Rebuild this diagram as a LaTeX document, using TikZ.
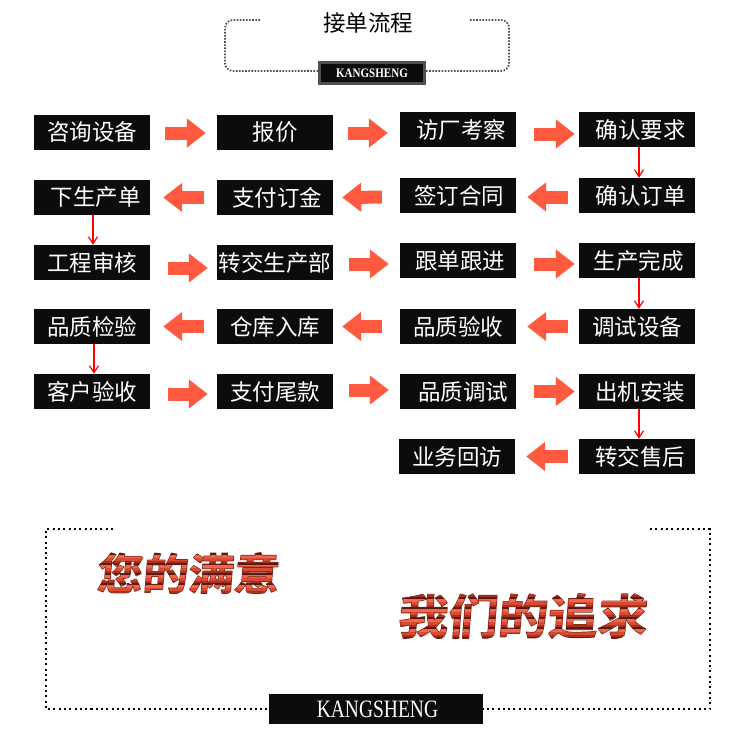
\documentclass[tikz,border=0pt]{standalone}
\usepackage{fontspec}
\setmainfont{Liberation Serif}
\newfontfamily\cjk{Noto Sans CJK SC}
\newfontfamily\sloganA[FakeSlant=0.08,FakeStretch=1.06]{Noto Sans CJK SC Bold}
\newfontfamily\sloganB[FakeSlant=0.08,FakeStretch=1.06]{Noto Sans CJK SC Bold}
\usetikzlibrary{arrows.meta}
\definecolor{boxblack}{HTML}{0C0C0C}
\definecolor{blockred}{HTML}{FF5A40}
\definecolor{framegray}{HTML}{505050}
\definecolor{deep}{HTML}{5A1A10}
\definecolor{mid}{HTML}{A83222}
\definecolor{hot}{HTML}{D84A32}
\definecolor{bright}{HTML}{F2664C}
% a text used as a clip for horizontal colour bands
\newcommand{\bandstack}[1]{%
  \foreach \off in {-15,-5,5,15,25,35,45}{%
    \foreach \dy/\hh/\cc in {0/2/deep,2/2/mid,4/3/hot,7/3/bright}{%
      \pgfmathsetlengthmacro{\yy}{(\off+\dy)*1pt}%
      \rlap{\color{\cc}\smash{\rule[\yy]{#1}{\hh pt}}}%
    }%
  }%
}
\newcommand{\carved}[1]{%
  \setbox0=\hbox{#1}%
  \hbox to \wd0{%
    \special{pdf:literal q 1.3 w 0.5 0.14 0.09 RG 0.5 0.14 0.09 rg 1 j 6 Tr}\rlap{\copy0}\special{pdf:literal 0 Tr}%
    \bandstack{\wd0}\hfill\special{pdf:literal Q}}%
}
\tikzset{
  x=1pt,y=-1pt,
  stagebox/.style={fill=boxblack,text=white,minimum width=116pt,minimum height=35pt,inner sep=0pt,font=\cjk\fontsize{22.5}{23}\selectfont},
  bigarrow/.style={draw=blockred,line width=13pt,-{Triangle[width=28pt,length=19pt,fill=blockred]}},
  thinarrow/.style={draw=red,line width=1.4pt,-{Straight Barb[length=7pt,width=9pt,line width=1.2pt]}},
  smallframe/.style={draw=framegray,line width=1.8pt,dash pattern=on 1.6pt off 1.5pt,rounded corners=8pt},
  bigframe/.style={draw=black,line width=2pt,dash pattern=on 2pt off 3.3pt},
  badge/.style={fill=boxblack,text=white,inner sep=0pt},
  slogan/.style={inner sep=0pt},
}
\begin{document}
\begin{tikzpicture}
\useasboundingbox[fill=white] (0,0) rectangle (750,750);
% row 1
\node[stagebox] (a1) at (92,132.5) {咨询设备};
\node[stagebox] (a2) at (275,132.5) {报价};
\node[stagebox] (a3) at (458,129.5) {\kern6pt访厂考察};
\node[stagebox] (a4) at (637,129.5) {\kern7pt确认要求};
% row 2
\node[stagebox] (b1) at (92,197.5) {\kern7pt下生产单};
\node[stagebox] (b2) at (275,197.5) {\kern4pt支付订金};
\node[stagebox] (b3) at (458,195.5) {\kern2pt签订合同};
\node[stagebox] (b4) at (637,195.5) {\kern7pt确认订单};
% row 3
\node[stagebox] (c1) at (92,262.5) {工程审核};
\node[stagebox] (c2) at (275,262.5) {转交生产部};
\node[stagebox] (c3) at (458,260.5) {\kern4pt跟单跟进};
\node[stagebox] (c4) at (637,260.5) {\kern3pt生产完成};
% row 4
\node[stagebox] (d1) at (92,326.5) {品质检验};
\node[stagebox] (d2) at (275,326.5) {仓库入库};
\node[stagebox] (d3) at (458,326.5) {品质验收};
\node[stagebox] (d4) at (637,326.5) {调试设备};
% row 5
\node[stagebox] (e1) at (92,391.5) {客户验收};
\node[stagebox] (e2) at (275,391.5) {支付尾款};
\node[stagebox] (e3) at (458,391.5) {\kern10pt品质调试};
\node[stagebox] (e4) at (637,391.5) {\kern6pt出机安装};
% row 6
\node[stagebox] (f3) at (457,456.5) {业务回访};
\node[stagebox] (f4) at (637,456.5) {\kern6pt转交售后};
% block arrows
\draw[bigarrow,shorten <=15pt,shorten >=11pt] ([yshift=-.5pt]a1.east) -- ([yshift=-.5pt]a2.west);
\draw[bigarrow,shorten <=15pt,shorten >=12pt] ([yshift=-.5pt]a2.east) -- ([yshift=-3.5pt]a3.west);
\draw[bigarrow,shorten <=18pt,shorten >=4pt] ([yshift=-4.5pt]a3.east) -- ([yshift=-4.5pt]a4.west);
\draw[bigarrow,shorten <=13pt,shorten >=13pt] (b2.west) -- (b1.east);
\draw[bigarrow,shorten <=18pt,shorten >=9pt] ([yshift=-1.5pt]b3.west) -- (b2.east);
\draw[bigarrow,shorten <=11pt,shorten >=11pt] ([yshift=-1.5pt]b4.west) -- ([yshift=-1.5pt]b3.east);
\draw[bigarrow,shorten <=18pt,shorten >=9pt] ([yshift=-5.5pt]c1.east) -- ([yshift=-5.5pt]c2.west);
\draw[bigarrow,shorten <=16pt,shorten >=11pt] ([yshift=-1.5pt]c2.east) -- ([yshift=-3.5pt]c3.west);
\draw[bigarrow,shorten <=18pt,shorten >=4pt] ([yshift=-3.5pt]c3.east) -- ([yshift=-3.5pt]c4.west);
\draw[bigarrow,shorten <=13pt,shorten >=13pt] (d2.west) -- (d1.east);
\draw[bigarrow,shorten <=18pt,shorten >=9pt] (d3.west) -- (d2.east);
\draw[bigarrow,shorten <=11pt,shorten >=11pt] (d4.west) -- (d3.east);
\draw[bigarrow,shorten <=18pt,shorten >=9pt] ([yshift=-2.5pt]e1.east) -- ([yshift=-2.5pt]e2.west);
\draw[bigarrow,shorten <=16pt,shorten >=11pt] ([yshift=1.5pt]e2.east) -- ([yshift=1.5pt]e3.west);
\draw[bigarrow,shorten <=18pt,shorten >=4pt] (e3.east) -- (e4.west);
\draw[bigarrow,shorten <=11pt,shorten >=11pt] (f4.west) -- (f3.east);
% thin arrows
\draw[thinarrow] ([xshift=2pt]a4.south) -- ([xshift=2pt]b4.north);
\draw[thinarrow] ([xshift=1pt]b1.south) -- ([xshift=1pt]c1.north);
\draw[thinarrow] ([xshift=2pt]c4.south) -- ([xshift=2pt]d4.north);
\draw[thinarrow] ([xshift=2pt]d1.south) -- ([xshift=2pt]e1.north);
\draw[thinarrow] ([xshift=2pt]e4.south) -- ([xshift=2pt]f4.north);
% top frame
\node[inner sep=0pt,font=\cjk\fontsize{22.5}{23}\selectfont] (title) at (368,23) {接单流程};
\node[badge,draw=framegray,line width=3pt,minimum width=105pt,minimum height=21pt,font=\fontsize{13}{13}\selectfont\bfseries] (topbadge) at (372,73) {\scalebox{0.85}[1]{KANGSHENG}};
\coordinate (tl) at (260,20);
\coordinate (tr) at (470,20);
\draw[smallframe] (tl) -- (225,20) -- (225,71) -- (topbadge.west |- 0,71);
\draw[smallframe] (tr) -- (509,20) -- (509,71) -- (topbadge.east |- 0,71);
% bottom frame
\node[badge,minimum width=214pt,minimum height=30pt,font=\fontsize{25}{25}\selectfont] (botbadge) at (376,709) {\kern3pt\scalebox{0.78}[1]{KANGSHENG}};
\coordinate (bl) at (113,529);
\coordinate (br) at (650,529);
\draw[bigframe] (bl) -- (46,529) -- (46,709) -- (botbadge.west |- 0,709);
\draw[bigframe] (br) -- (710,529) -- (710,709) -- (botbadge.east |- 0,709);
% slogans
\node[slogan] (s1) at (187.5,573) {\carved{\sloganA\fontsize{43}{43}\selectfont 您的满意}};
\node[slogan] (s2) at (522,616) {\carved{\sloganB\fontsize{47}{47}\selectfont 我们的追求}};
\end{tikzpicture}
\end{document}
